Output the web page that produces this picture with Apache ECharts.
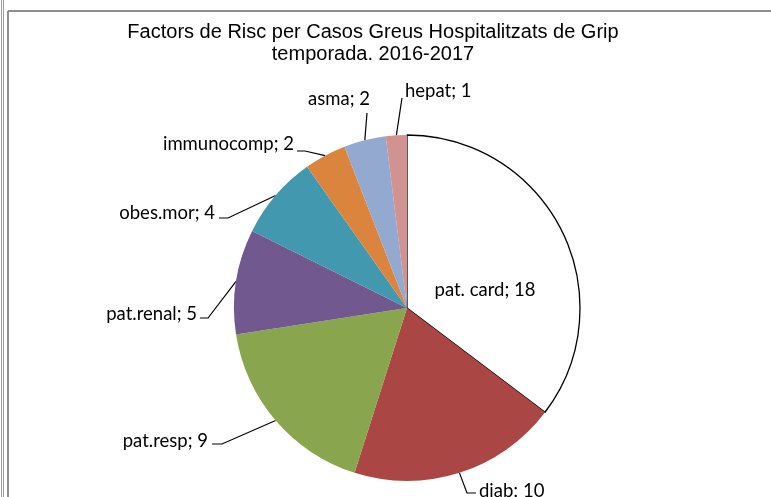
<!DOCTYPE html>
<html>
<head>
<meta charset="utf-8">
<script src="https://cdn.jsdelivr.net/npm/echarts@6/dist/echarts.min.js"></script>
<style>
  html, body { margin: 0; padding: 0; background: #fff; }
  #chart { width: 771px; height: 497px; }
</style>
</head>
<body>
<div id="chart"></div>
<script>
// chart values
const categories = ['pat. card', 'diab', 'pat.resp', 'pat.renal', 'obes.mor', 'immunocomp', 'asma', 'hepat'];
const values = [18, 10, 9, 5, 4, 2, 2, 1];
const colors = ['#ffffff', '#aa4643', '#89a54e', '#71588f', '#4198af', '#db843d', '#93a9cf', '#d19392'];

// where each label sits: text anchor, alignment, and the bend of its leader line
const labelSpots = [
    { x: 485, y: 290, align: 'center', line: null },
    { x: 479, y: 491, align: 'left', line: [[467, 493], [476, 493]] },
    { x: 208, y: 441, align: 'right', line: [[222, 444], [212, 444]] },
    { x: 197, y: 314, align: 'right', line: [[208, 318], [200, 318]] },
    { x: 215, y: 213, align: 'right', line: [[228, 218], [219, 218]] },
    { x: 294, y: 144, align: 'right', line: [[305, 151], [297, 151]] },
    { x: 339, y: 99, align: 'center', line: [[367, 113]] },
    { x: 405, y: 91, align: 'left', line: [[402, 98]] }
];

const chart = echarts.init(document.getElementById('chart'), null, { renderer: 'canvas' });

const labelFont = 'Lato, "Open Sans", sans-serif';

const option = {
    backgroundColor: '#ffffff',
    animation: false,
    title: {
        text: 'Factors de Risc per Casos Greus Hospitalitzats de Grip\ntemporada. 2016-2017',
        left: 368,
        top: 16,
        textAlign: 'center',
        textStyle: {
            fontFamily: '"Liberation Sans", Arial, sans-serif',
            fontSize: 20,
            fontWeight: 'normal',
            color: '#000',
            lineHeight: 22
        }
    },
    graphic: [
        { type: 'line', shape: { x1: 1.5, y1: 0, x2: 1.5, y2: 497 }, style: { stroke: '#9a9a9a', lineWidth: 1 } },
        { type: 'line', shape: { x1: 3.5, y1: 0, x2: 3.5, y2: 497 }, style: { stroke: '#9a9a9a', lineWidth: 1 } },
        { type: 'line', shape: { x1: 8, y1: 11, x2: 8, y2: 497 }, style: { stroke: '#8f8f8f', lineWidth: 2 } },
        { type: 'line', shape: { x1: 8, y1: 11, x2: 771, y2: 11 }, style: { stroke: '#8f8f8f', lineWidth: 2 } }
    ],
    series: [{
        type: 'pie',
        center: [407, 308],
        radius: [0, 173],
        startAngle: 90,
        clockwise: true,
        avoidLabelOverlap: false,
        data: categories.map((name, i) => ({
            name,
            value: values[i],
            itemStyle: i === 0
                ? { color: colors[i], borderColor: '#000', borderWidth: 1.3 }
                : { color: colors[i], borderWidth: 0 },
            label: i === 0 ? { position: 'inside' } : {},
            labelLine: i === 0 ? { show: false } : {}
        })),
        label: {
            show: true,
            position: 'outside',
            formatter: '{b}; {c}',
            fontFamily: labelFont,
            fontSize: 18.5,
            color: '#000'
        },
        labelLine: {
            show: true,
            length: 10,
            length2: 10,
            lineStyle: { color: '#000', width: 1.2 }
        },
        labelLayout: function (params) {
            const spot = labelSpots[params.dataIndex];
            const out = {
                x: spot.x,
                y: spot.y,
                align: spot.align,
                verticalAlign: 'middle'
            };
            if (spot.line && params.labelLinePoints) {
                out.labelLinePoints = [params.labelLinePoints[0]].concat(spot.line);
            }
            return out;
        },
        emphasis: { disabled: true }
    }]
};

chart.setOption(option);
</script>
</body>
</html>
